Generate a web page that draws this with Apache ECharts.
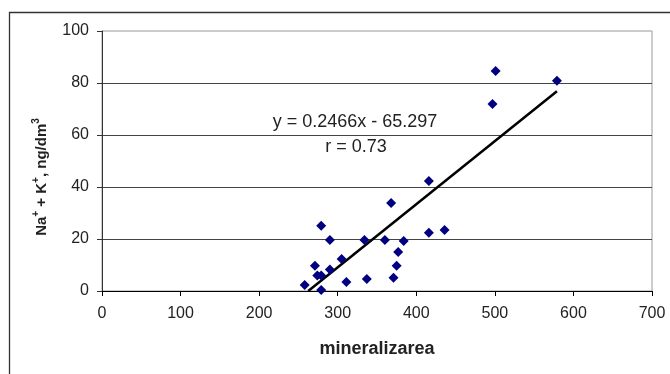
<!DOCTYPE html>
<html>
<head>
<meta charset="utf-8">
<script src="https://cdn.jsdelivr.net/npm/echarts@6/dist/echarts.min.js"></script>
<style>
  html, body { margin: 0; padding: 0; background: #fff; }
  #main { width: 670px; height: 374px; }
</style>
</head>
<body>
<div id="main"></div>
<script>
// valori
var mineralizarea = [258, 279, 290, 271, 274, 279, 279, 290, 305, 311, 334, 337,
                     360, 368, 384, 377, 375, 371, 416, 436, 416, 501, 497, 579];
var naK = [2.3, 25.1, 19.6, 9.7, 6.0, 6.0, 0.4, 8.3, 12.3, 3.5, 19.6, 4.6,
           19.6, 33.8, 19.2, 15.0, 9.7, 5.1, 22.4, 23.5, 42.3, 84.6, 71.9, 80.9];

// capetele dreptei de regresie
var trendX = [262.5, 579];
var trendY = [0, 76.8];

var xTicks = [0, 100, 200, 300, 400, 500, 600, 700];
var yTicks = [0, 20, 40, 60, 80, 100];

var ecuatie = 'y = 0.2466x - 65.297';
var corelatie = 'r = 0.73';

var points = mineralizarea.map(function (x, i) { return [x, naK[i]]; });
var trend = trendX.map(function (x, i) { return [x, trendY[i]]; });

var myChart = echarts.init(document.getElementById('main'));

var option = {
    animation: false,
    backgroundColor: '#fff',
    grid: {
        left: 102, top: 31, width: 550, height: 260,
        show: true,
        borderColor: '#999',
        borderWidth: 1,
        backgroundColor: 'transparent'
    },
    xAxis: {
        type: 'value',
        min: xTicks[0],
        max: xTicks[xTicks.length - 1],
        interval: 100,
        name: 'mineralizarea',
        nameLocation: 'middle',
        nameGap: 49,
        nameTextStyle: {
            fontFamily: 'Liberation Sans', fontSize: 18, fontWeight: 'bold', color: '#222'
        },
        axisLine: { show: true, onZero: false, lineStyle: { color: '#000', width: 1 } },
        axisTick: { show: true, inside: false, length: 5, lineStyle: { color: '#000' } },
        axisLabel: {
            fontFamily: 'Liberation Sans', fontSize: 16, color: '#222', margin: 15
        },
        splitLine: { show: false }
    },
    yAxis: {
        type: 'value',
        min: yTicks[0],
        max: yTicks[yTicks.length - 1],
        interval: 20,
        axisLine: { show: true, onZero: false, lineStyle: { color: '#333', width: 1 } },
        axisTick: { show: true, inside: false, length: 5, lineStyle: { color: '#333' } },
        axisLabel: {
            fontFamily: 'Liberation Sans', fontSize: 16, color: '#222', margin: 13
        },
        splitLine: {
            show: true,
            showMaxLine: false,
            lineStyle: { color: '#444', width: 1 }
        }
    },
    graphic: [
        {
            type: 'rect',
            silent: true,
            shape: { x: 9.5, y: 12.5, width: 800, height: 500 },
            style: { fill: 'none', stroke: '#333', lineWidth: 1.3 }
        },
        {
            type: 'text',
            x: 42, y: 177,
            rotation: Math.PI / 2,
            style: {
                text: '{a|Na}{s|+}{a| + K}{s|+}{a|, ng/dm}{s|3}',
                align: 'center',
                verticalAlign: 'middle',
                fill: '#222',
                rich: {
                    a: { fontFamily: 'Liberation Sans', fontSize: 15, fontWeight: 'bold', lineHeight: 22, fill: '#222' },
                    s: { fontFamily: 'Liberation Sans', fontSize: 10, fontWeight: 'bold', lineHeight: 10, verticalAlign: 'top', fill: '#222' }
                }
            }
        },
        {
            type: 'text',
            x: 355, y: 122,
            style: {
                text: ecuatie,
                font: '18px "Liberation Sans"',
                fill: '#222',
                align: 'center',
                verticalAlign: 'middle'
            }
        },
        {
            type: 'text',
            x: 356, y: 147,
            style: {
                text: corelatie,
                font: '18px "Liberation Sans"',
                fill: '#222',
                align: 'center',
                verticalAlign: 'middle'
            }
        }
    ],
    series: [
        {
            name: 'trend',
            type: 'line',
            data: trend,
            showSymbol: false,
            symbol: 'none',
            lineStyle: { color: '#000', width: 2.5 },
            z: 2
        },
        {
            name: 'Na+K',
            type: 'scatter',
            data: points,
            symbol: 'diamond',
            symbolSize: 10,
            clip: false,
            itemStyle: { color: '#000080', opacity: 1 },
            z: 3
        }
    ]
};

myChart.setOption(option);
</script>
</body>
</html>
